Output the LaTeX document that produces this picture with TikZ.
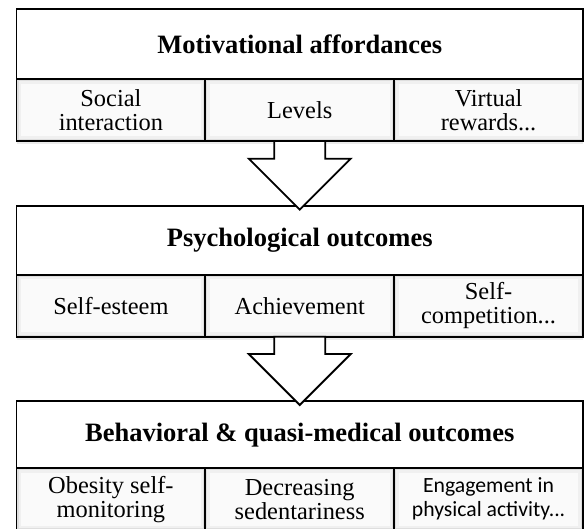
\documentclass[tikz,border=0pt]{standalone}
\usepackage{fontspec}
\setmainfont{Liberation Serif}
\newfontfamily\sansbody{Carlito}
\usetikzlibrary{calc,shadows}

\tikzset{
  frame/.style={draw=black, line width=1.8pt, outer sep=0pt, inner sep=0pt,
    align=center, text=black},
  softshadow/.style={
    drop shadow={shadow xshift=0pt, shadow yshift=-1.5pt, opacity=0.18, fill=black},
    drop shadow={shadow xshift=0pt, shadow yshift=-3pt, opacity=0.08, fill=black}},
  headbox/.style={frame, fill=white, minimum width=566.5pt,
    font=\fontsize{26.5}{30}\selectfont\bfseries},
  cellbox/.style={frame, softshadow, minimum width=188.83pt, minimum height=61.7pt,
    font=\fontsize{24.4}{24}\selectfont,
    path picture={
      \fill[black!13] (path picture bounding box.south west) rectangle (path picture bounding box.north east);
      \fill[black!6] ($(path picture bounding box.south west)+(2pt,2pt)$) rectangle ($(path picture bounding box.north east)+(-2pt,-2pt)$);
      \fill[black!2] ($(path picture bounding box.south west)+(4.5pt,4.5pt)$) rectangle ($(path picture bounding box.north east)+(-4.5pt,-4.5pt)$);
    }},
  blockarrow/.style={draw=black, line width=1.8pt, fill=white, line join=miter},
}

% hollow block arrow from the bottom of one box into the top of the next
\newcommand\flowarrow[2]{%
  \draw[blockarrow] let \p1=(#1.south), \p2=(#2.north) in
    (\x1-25.5pt,\y1) -- (\x1-25.5pt,\y2+47pt) -- (\x1-51pt,\y2+47pt)
    -- (\x1,\y2-4pt) -- (\x1+51pt,\y2+47pt) -- (\x1+25.5pt,\y2+47pt)
    -- (\x1+25.5pt,\y1) -- cycle;}

\begin{document}
\begin{tikzpicture}
\useasboundingbox (0,0) rectangle (584pt,-529pt);

% tier 1
\node[headbox, minimum height=70pt] (t1) at (299.75pt,-44.3pt) {Motivational affordances};
\node[cellbox, anchor=north west] (c11) at (t1.south west) {Social\\interaction};
\node[cellbox, anchor=north west] (c12) at (c11.north east) {Levels};
\node[cellbox, anchor=north west] (c13) at (c12.north east) {Virtual\\rewards...};

% tier 2
\node[headbox, minimum height=69.3pt] (t2) at (299.75pt,-240.35pt) {Psychological outcomes};
\node[cellbox, anchor=north west] (c21) at (t2.south west) {Self-esteem};
\node[cellbox, anchor=north west] (c22) at (c21.north east) {Achievement};
\node[cellbox, anchor=north west] (c23) at (c22.north east) {Self-\\competition...};

% tier 3
\node[headbox, minimum height=67.3pt] (t3) at (299.75pt,-434.65pt) {Behavioral \& quasi-medical outcomes};
\node[cellbox, anchor=north west] (c31) at (t3.south west) {Obesity self-\\monitoring};
\node[cellbox, anchor=north west] (c32) at (c31.north east) {Decreasing\\sedentariness};
\node[cellbox, anchor=north west, font=\sansbody\fontsize{21.7}{24}\selectfont] (c33) at (c32.north east) {Engagement in\\physical activity...};

% arrows between tiers
\flowarrow{c12}{t2}
\flowarrow{c22}{t3}
\end{tikzpicture}
\end{document}
